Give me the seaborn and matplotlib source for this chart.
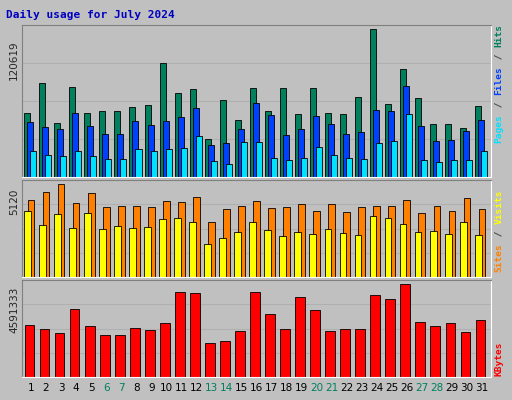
import matplotlib
matplotlib.use("Agg")
import matplotlib.pyplot as plt
import seaborn as sns
import numpy as np

days = list(range(1, 32))
weekend = [6, 7, 13, 14, 20, 21, 27, 28]
hits_px = [112,82,122,86,112,110,110,106,104,63,92,88,138,99,119,87,110,87,113,87,112,113,96,29,103,69,97,123,123,127,105]
files_px = [121,126,128,112,125,133,133,120,124,120,116,107,144,142,128,102,114,134,128,115,123,133,131,109,110,85,125,140,139,130,119]
pages_px = [150,154,155,150,155,158,158,148,150,148,147,135,160,163,141,141,157,159,157,146,154,157,158,142,140,113,159,161,159,159,150]
visits_px = [200,192,184,203,193,207,206,206,207,201,202,197,222,209,206,201,208,207,204,211,204,212,207,206,206,200,213,206,211,198,209]
sites_px = [211,225,214,228,213,229,226,228,227,219,218,222,243,237,232,222,230,236,232,234,229,233,235,216,218,224,232,231,234,222,235]
kb_px = [325,329,333,309,326,335,335,328,330,323,292,293,342,340,331,292,314,329,297,310,331,329,329,295,299,284,322,326,323,332,320]

max_hits, max_visits, max_kb = 120619, 5120, 4591333
hits = [(176-y)/149*max_hits for y in hits_px]
files = [(176-y)/149*max_hits for y in files_px]
pages = [(176-y)/149*max_hits for y in pages_px]
visits = [(276-y)/93*max_visits for y in visits_px]
sites = [(276-y)/93*max_visits for y in sites_px]
kbytes = [(376-y)/93*max_kb for y in kb_px]

sns.set_style("white")
bg = "#C0C0C0"
fig = plt.figure(figsize=(5.12, 4.0), dpi=100, facecolor=bg)
W, H = 512, 400
def mkax(top, bottom, ymax):
    ax = fig.add_axes([22/W, 1-bottom/H, (491-22)/W, (bottom-top)/H], facecolor=bg)
    ax.set_xlim(0.4, 31.6)
    ax.set_ylim(0, ymax)
    ax.set_xticks([])
    ax.set_yticks([])
    for s in ax.spines.values():
        s.set_color("#808080")
    ax.spines["bottom"].set_color("white"); ax.spines["right"].set_color("white")
    for v in [0.25, 0.5, 0.75]:
        ax.axhline(ymax*v, color="#B0B0B0", lw=0.8, zorder=0)
    return ax

x = np.array(days)
ec = "black"
ax1 = mkax(25, 177, max_hits*1.015)
ax1.bar(x-0.25, hits, 0.4, color="#00805C", edgecolor=ec, lw=0.6)
ax1.bar(x-0.05, files, 0.4, color="#0040FF", edgecolor=ec, lw=0.6)
ax1.bar(x+0.15, pages, 0.4, color="#00E0FF", edgecolor=ec, lw=0.6)

ax2 = mkax(180, 277, max_visits*1.03)
ax2.bar(x+0.0, visits, 0.45, color="#FF8000", edgecolor=ec, lw=0.6)
ax2.bar(x-0.25, sites, 0.45, color="#FFFF00", edgecolor=ec, lw=0.6)

ax3 = mkax(280, 377, max_kb*1.03)
ax3.bar(x-0.1, kbytes, 0.65, color="#FF0000", edgecolor=ec, lw=0.6)

mono = "DejaVu Sans Mono"
fig.text(6/W, 1-15/H, "Daily usage for July 2024", color="#0000C0", fontsize=8,
         fontweight="bold", family=mono, va="center")
fig.text(14/W, 1-60/H, "120619", rotation=90, fontsize=7.5, va="center", ha="center")
fig.text(14/W, 1-202/H, "5120", rotation=90, fontsize=7.5, va="center", ha="center")
fig.text(14/W, 1-310/H, "4591333", rotation=90, fontsize=7.5, va="center", ha="center")

def stack(x0, ybot, parts):
    y = ybot
    for txt, col in parts:
        fig.text(x0/W, 1-y/H, txt, rotation=90, color=col, fontsize=6.8,
                 family=mono, fontweight="bold", ha="center", va="bottom")
        y -= len(txt)*6.0
stack(499, 143, [("Pages", "#00E0FF"), (" / ", "#404040"), ("Files", "#0040FF"), (" / ", "#404040"), ("Hits", "#00805C")])
stack(499, 272, [("Sites", "#FF8000"), (" / ", "#404040"), ("Visits", "#FFFF00")])
stack(499, 376, [("KBytes", "#FF0000")])

for d in days:
    col = "#00805C" if d in weekend else "black"
    fig.text((22 + (d-0.4)/31.2*469)/W, 1-388/H, str(d), color=col, fontsize=7.5,
             ha="center", va="center")

fig.savefig("out.png", dpi=100, facecolor=bg)
